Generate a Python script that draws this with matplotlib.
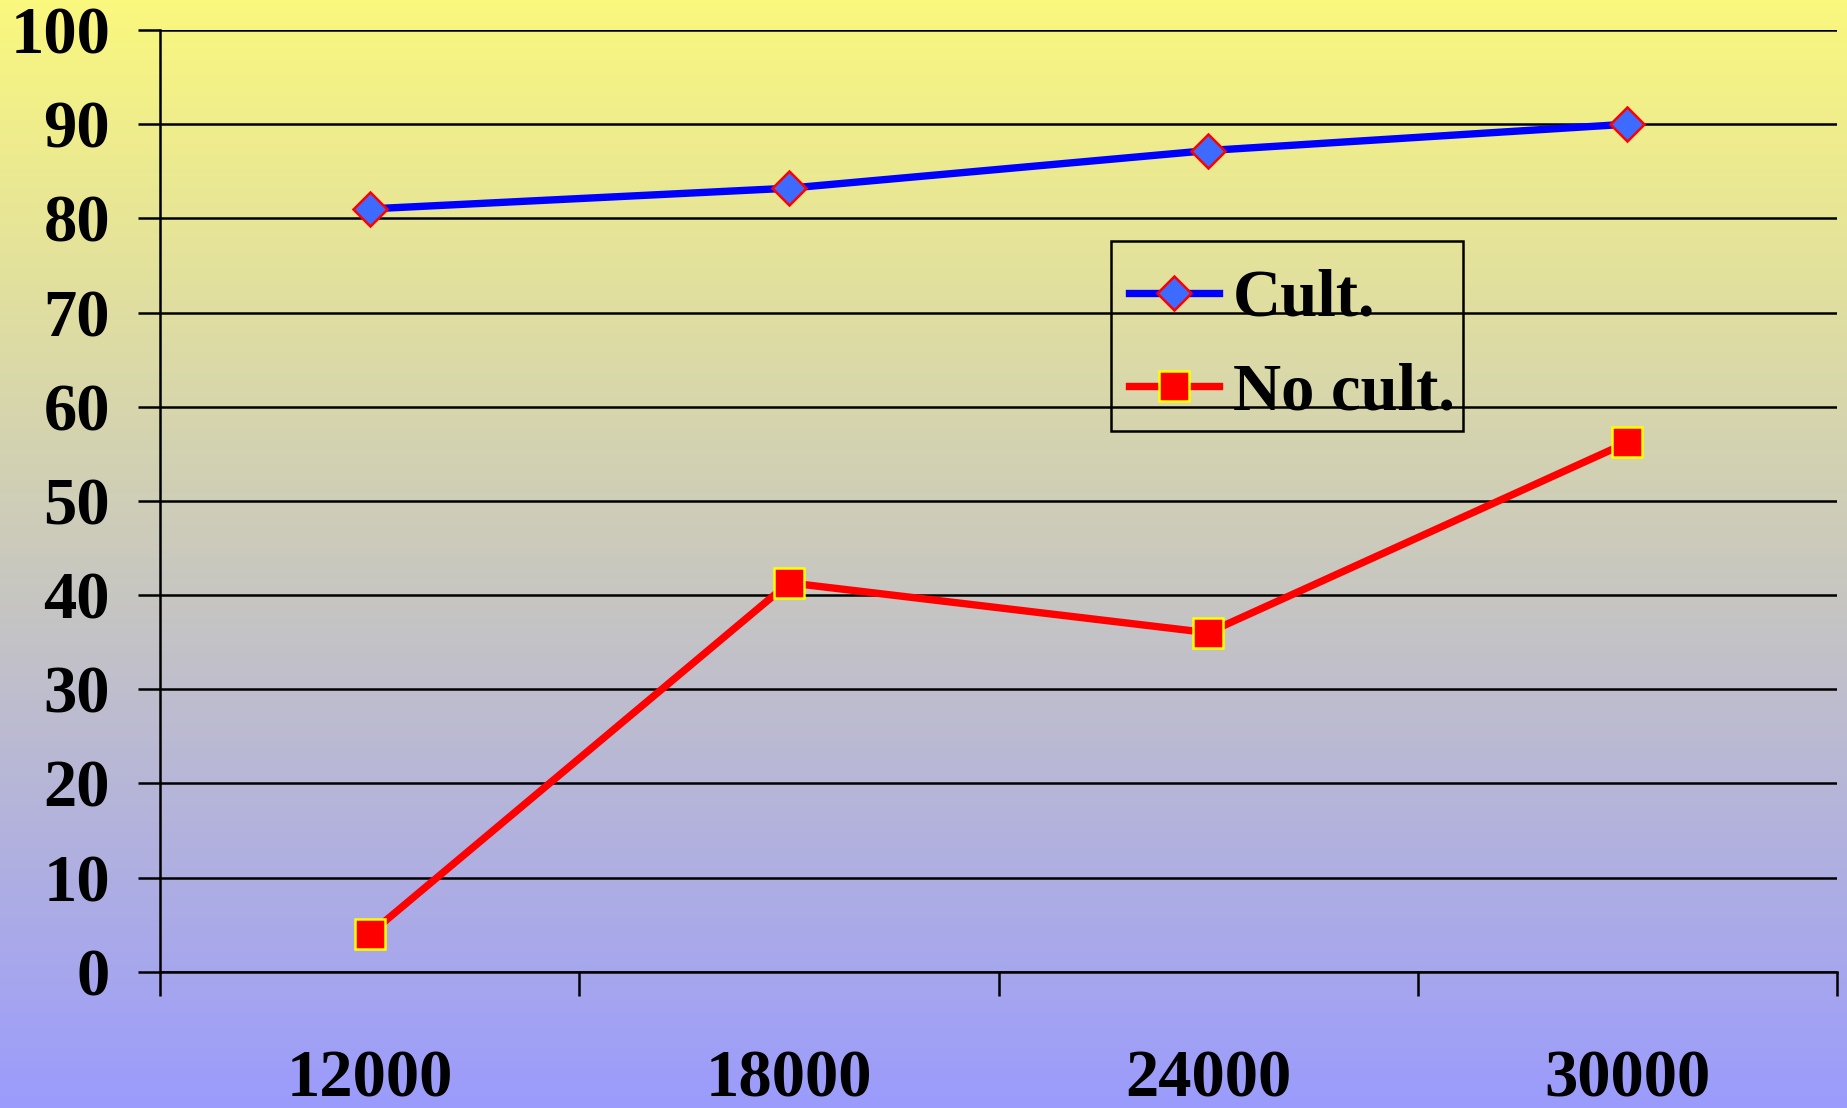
import numpy as np
import matplotlib
matplotlib.use("Agg")
import matplotlib.pyplot as plt
from matplotlib.ticker import FixedLocator, NullFormatter
from matplotlib.patches import Rectangle

categories = ["12000", "18000", "24000", "30000"]
cult = [81, 83.2, 87.2, 90]
no_cult = [4, 41.3, 36, 56.2]
yticks = [0, 10, 20, 30, 40, 50, 60, 70, 80, 90, 100]

W, H = 1847, 1108
fig = plt.figure(figsize=(W / 100, H / 100), dpi=100)

# gradient background
bg = fig.add_axes([0, 0, 1, 1], zorder=-10)
top = np.array([250, 248, 125]) / 255
bot = np.array([155, 155, 253]) / 255
t = np.linspace(0, 1, 256)[:, None]
grad = (top[None, :] * (1 - t) + bot[None, :] * t)[:, None, :]
bg.imshow(grad, aspect="auto", extent=[0, 1, 0, 1], origin="upper")
bg.set_axis_off()

ax = fig.add_axes([160 / W, 1 - 971.7 / H, (1837 - 160) / W, (971.7 - 30) / H])
ax.patch.set_alpha(0)

FS = 48
font = dict(family="Liberation Serif", weight="bold", size=FS)
x = np.arange(len(categories))

ax.plot(x, cult, color="#0000FF", lw=5.3, marker="D", ms=17.5,
        mfc="#3D6BFF", mec="#FF0000", mew=1.8, label="Cult.", zorder=3)
ax.plot(x, no_cult, color="#FF0000", lw=5.3, marker="s", ms=22,
        mfc="#FF0000", mec="#FFFF00", mew=1.8, label="No cult.", zorder=3)

ax.set_xlim(-0.5, len(categories) - 0.5)
ax.set_ylim(0, 100)
ax.set_yticks(yticks)
ax.set_yticklabels([str(v) for v in yticks], fontdict=font)
ax.xaxis.set_major_locator(FixedLocator(np.arange(-0.5, len(categories), 1.0)))
ax.xaxis.set_major_formatter(NullFormatter())
ax.xaxis.set_minor_locator(FixedLocator(x))
ax.set_xticklabels(categories, minor=True, fontdict=font)
ax.tick_params(axis="x", which="major", length=17, width=1.8, color="black", direction="out")
ax.tick_params(axis="x", which="minor", length=0, pad=56)
ax.tick_params(axis="y", length=16, width=1.8, color="black", direction="out", pad=20)

ax.yaxis.grid(True, color="black", lw=1.8)
ax.set_axisbelow(True)
for s in ["top", "right"]:
    ax.spines[s].set_visible(False)
for s in ["left", "bottom"]:
    ax.spines[s].set_linewidth(1.8)

# legend frame
fig.patches.append(Rectangle((1110.5 / W, 1 - 431 / H), (1463 - 1110.5) / W, (431 - 240.5) / H,
                             transform=fig.transFigure, fill=False, edgecolor="black",
                             linewidth=1.8, zorder=5))

leg = ax.legend(loc="center left", bbox_to_anchor=(1128.5 / W, 1 - 346 / H),
                bbox_transform=fig.transFigure, borderaxespad=0,
                prop=dict(family="Liberation Serif", weight="bold", size=FS),
                frameon=False, handlelength=1.35, handletextpad=0.22,
                labelspacing=0.48, borderpad=0)

fig.savefig("out.png", dpi=100)
